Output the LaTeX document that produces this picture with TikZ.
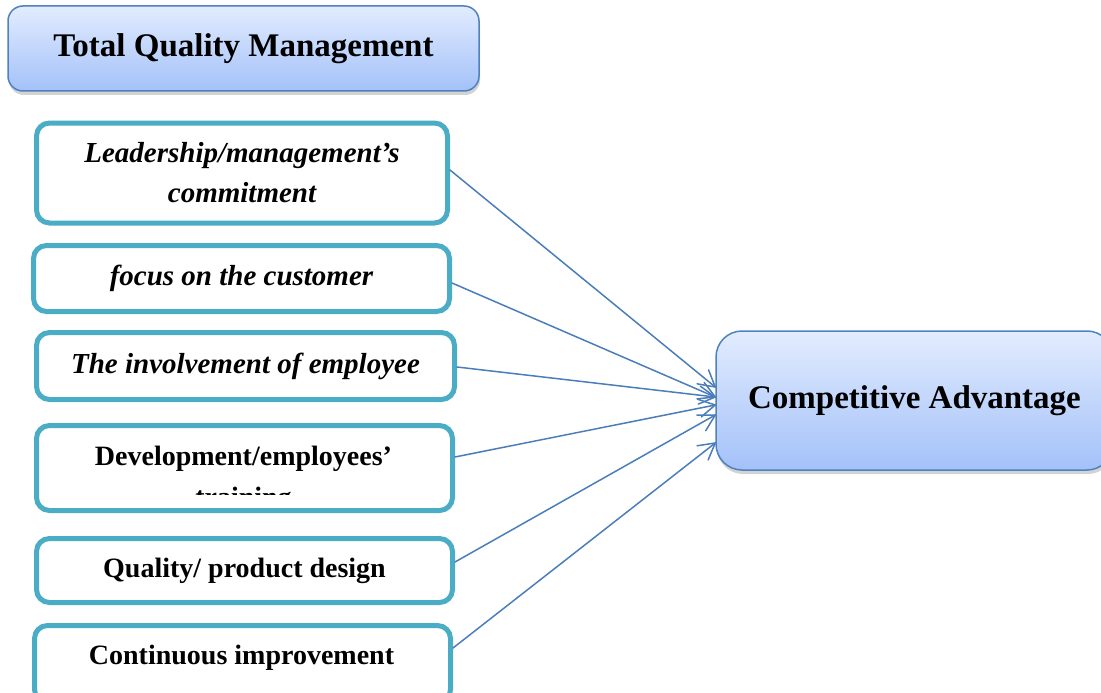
\documentclass[tikz,border=0pt]{standalone}
\usepackage{fontspec}
\setmainfont{Liberation Serif}
\usetikzlibrary{shadows,decorations.markings}
\definecolor{teal5}{RGB}{75,172,198}
\definecolor{arrowblue}{RGB}{74,126,187}
\definecolor{bordblue}{RGB}{79,129,189}
\definecolor{gradtop}{RGB}{226,236,254}
\definecolor{gradbot}{RGB}{163,193,249}
\tikzset{
  factor/.style={draw=teal5, line width=5pt, rounded corners=13pt, fill=white,
    align=center, inner sep=0pt, font=\fontsize{28}{40}\selectfont\bfseries},
  factorit/.style={factor, font=\fontsize{29}{40}\selectfont\bfseries\itshape},
  headbox/.style={draw=bordblue, line width=1.5pt, top color=gradtop, bottom color=gradbot,
    align=center, inner sep=0pt, font=\fontsize{33}{38}\selectfont\bfseries,
    drop shadow={shadow xshift=1pt, shadow yshift=-4pt, opacity=0.35}},
  link/.style={draw=arrowblue, line width=1.5pt, line cap=round,
    postaction={decorate},
    decoration={markings, mark=at position 1 with {\draw[arrowblue, line width=1.5pt, line join=round, line cap=round] (-16pt,9pt) -- (0pt,0pt) -- (-16pt,-9pt);}}},
}
\begin{document}
\begin{tikzpicture}[x=1pt,y=1pt]
\useasboundingbox (0,0) rectangle (1101,-693);
\node[headbox, rounded corners=15pt, minimum width=471pt, minimum height=85pt] (tqm) at (243.5,-48.5) {Total Quality Management};
\node[headbox, rounded corners=26pt, minimum width=397pt, minimum height=139pt] (ca) at (914.5,-400.5) {Competitive Advantage};

\node[factorit, minimum width=411pt, minimum height=100pt] (b1) at (242,-173) {Leadership/management’s\\commitment};
\node[factorit, minimum width=416pt, minimum height=66pt] (b2) at (241.5,-278.5) {focus on the customer};
\node[factorit, minimum width=418pt, minimum height=67pt] (b3) at (245.5,-366) {The involvement of employee};
\node[factor, minimum width=416pt, minimum height=85pt] (b4) at (244.5,-468) {};
\begin{scope}
  \clip (40,-430) rectangle (450,-494.5);
  \node[font=\fontsize{28}{41}\selectfont\bfseries, align=center, inner sep=0pt] (b4t) at (243.5,-479.5) {Development/employees’\\training};
\end{scope}
\node[factor, minimum width=416pt, minimum height=64pt] (b5) at (244.5,-570.5) {Quality/ product design};
\node[factor, minimum width=416pt, minimum height=77pt] (b6) at (242.5,-664) {};
\node[font=\fontsize{28}{30}\selectfont\bfseries, inner sep=0pt] (b6t) at (241.5,-658) {Continuous improvement};

\draw[link] ([yshift=3pt]b1.east) -- ([yshift=13.5pt]ca.west);
\draw[link] ([yshift=-4.5pt]b2.east) -- ([yshift=3.5pt]ca.west);
\draw[link] ([yshift=-1pt]b3.east) -- ([yshift=3.5pt]ca.west);
\draw[link] ([yshift=11pt]b4.east) -- ([yshift=-4.5pt]ca.west);
\draw[link] ([yshift=8.5pt]b5.east) -- ([yshift=-14.5pt]ca.west);
\draw[link] ([yshift=16pt]b6.east) -- ([yshift=-42.5pt]ca.west);
\end{tikzpicture}
\end{document}
